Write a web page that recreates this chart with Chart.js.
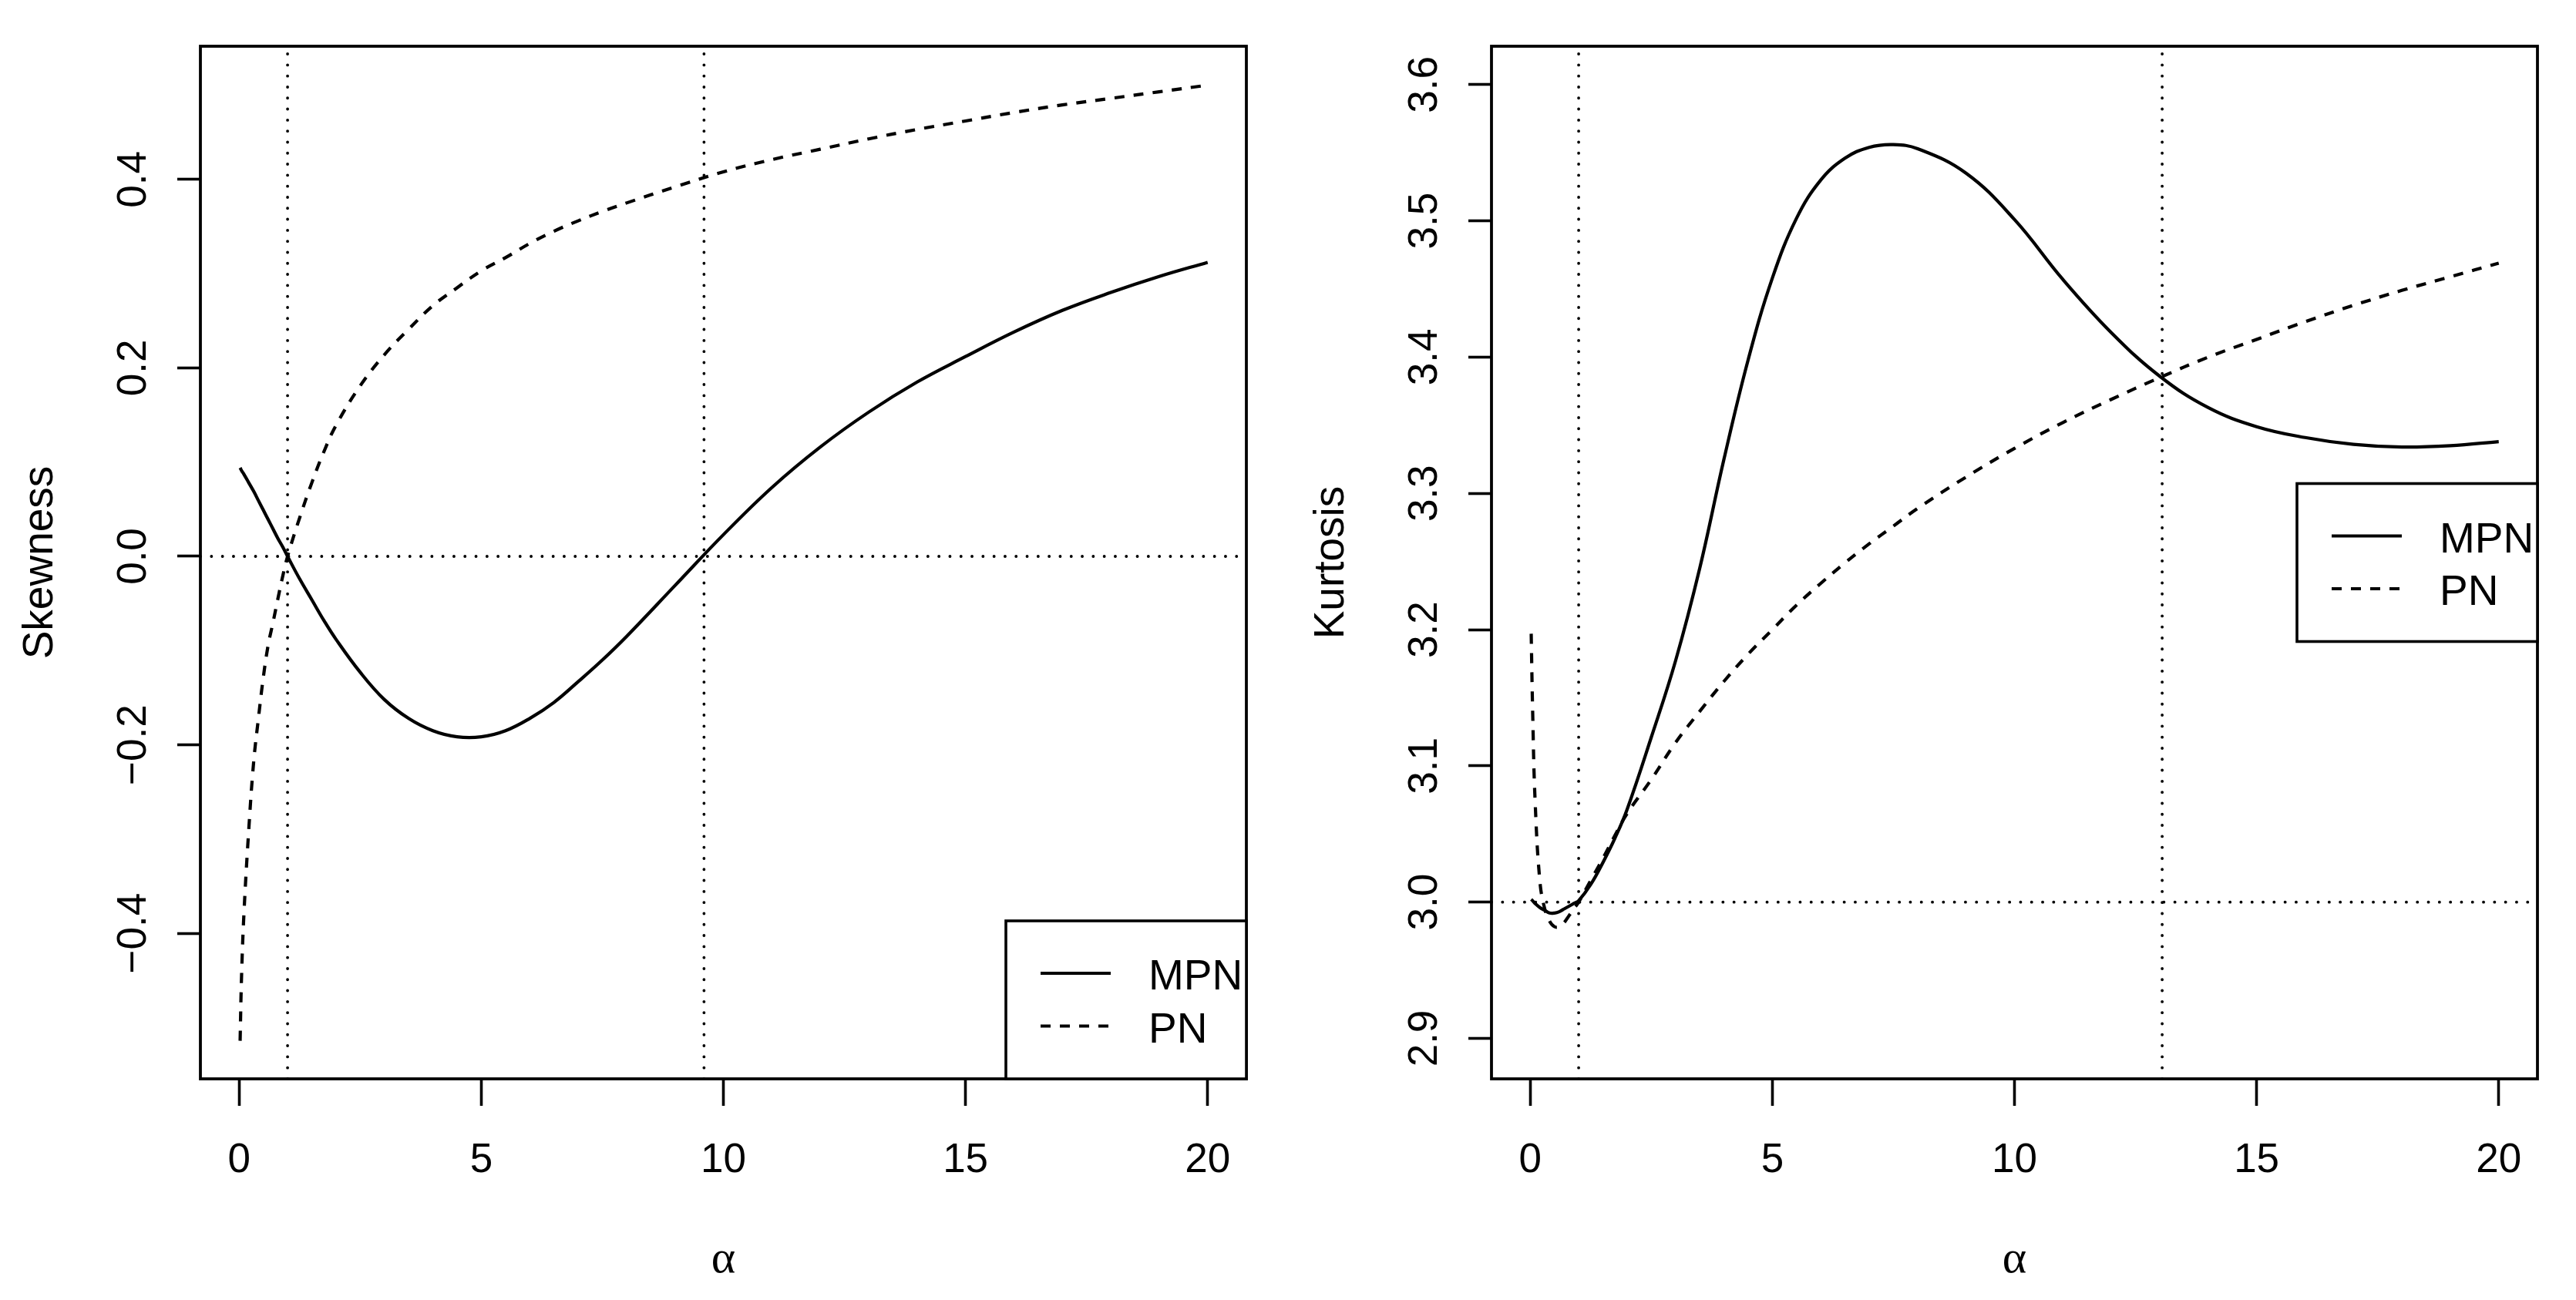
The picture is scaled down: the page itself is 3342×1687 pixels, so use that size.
<!DOCTYPE html>
<html>
<head>
<meta charset="utf-8">
<script src="https://cdn.jsdelivr.net/npm/chart.js@4.4.0/dist/chart.umd.min.js"></script>
<style>
    html, body { margin: 0; padding: 0; background: #fff; }
    #wrap { position: relative; width: 3342px; height: 1687px; overflow: hidden; background: #fff; }
    canvas { position: absolute; top: 0; }
    #skew-chart { left: 0; }
    #kurt-chart { left: 1675px; }
</style>
</head>
<body>
<div id="wrap">
    <canvas id="skew-chart" width="1667" height="1687"></canvas>
    <canvas id="kurt-chart" width="1667" height="1687"></canvas>
</div>
<script>
// Values
const alpha = [0.02, 0.05, 0.1, 0.2, 0.3, 0.4, 0.5, 0.6, 0.7, 0.8, 0.9, 1, 1.25, 1.5, 1.75, 2,
    2.5, 3, 3.5, 4, 4.5, 5, 5.5, 6, 6.5, 7, 7.5, 8, 9, 10, 11, 12, 13, 14, 15, 16, 17, 18, 19, 20];

const skewMPN = [0.094, 0.091, 0.087, 0.078, 0.069, 0.059, 0.049, 0.039, 0.029, 0.019, 0.010, 0.000,
    -0.024, -0.046, -0.068, -0.088, -0.123, -0.152, -0.172, -0.185, -0.1915, -0.1915, -0.185, -0.172,
    -0.155, -0.133, -0.110, -0.085, -0.031, 0.023, 0.073, 0.116, 0.153, 0.185, 0.212, 0.238, 0.261,
    0.280, 0.297, 0.312];

const skewPN = [-0.514, -0.445, -0.378, -0.289, -0.218, -0.171, -0.128, -0.094, -0.070, -0.045, -0.021,
    0.000, 0.041, 0.078, 0.111, 0.139, 0.181, 0.214, 0.241, 0.266, 0.285, 0.303, 0.317, 0.332, 0.345,
    0.356, 0.366, 0.375, 0.392, 0.408, 0.421, 0.432, 0.443, 0.453, 0.462, 0.471, 0.479, 0.486, 0.493, 0.500];

const kurtMPN = [3.002, 3.001, 2.999, 2.996, 2.994, 2.992, 2.992, 2.993, 2.995, 2.997, 2.999, 3.001,
    3.013, 3.029, 3.047, 3.068, 3.121, 3.177, 3.245, 3.325, 3.398, 3.458, 3.502, 3.530, 3.546, 3.554,
    3.556, 3.553, 3.535, 3.501, 3.457, 3.418, 3.386, 3.363, 3.349, 3.341, 3.336, 3.334, 3.335, 3.338];

const kurtPN = [3.197, 3.140, 3.075, 3.015, 2.995, 2.986, 2.982, 2.982, 2.985, 2.990, 2.995, 3.000,
    3.016, 3.032, 3.049, 3.065, 3.090, 3.117, 3.140, 3.162, 3.182, 3.200, 3.218, 3.234, 3.249, 3.263,
    3.276, 3.289, 3.312, 3.333, 3.352, 3.369, 3.385, 3.400, 3.413, 3.426, 3.438, 3.449, 3.459, 3.469];

const seriesLabels = ['MPN', 'PN'];
const alphaTicks = [0, 5, 10, 15, 20];
const skewTicks = [-0.4, -0.2, 0.0, 0.2, 0.4];
const kurtTicks = [2.9, 3.0, 3.1, 3.2, 3.3, 3.4, 3.5, 3.6];
const skewVLines = [1, 9.6];
const skewHLines = [0];
const kurtVLines = [1, 13.05];
const kurtHLines = [3];

// Axis limits (R style 4% padding)
const X_MIN = -0.8, X_MAX = 20.8;
const SKEW_MIN = -0.5544, SKEW_MAX = 0.5413;
const KURT_MIN = 2.8703, KURT_MAX = 3.6282;

const SANS = '"Liberation Sans", Arial, Helvetica, sans-serif';
const SERIF = '"Liberation Serif", "Times New Roman", serif';
const LINE_W = 4.2;
const DASH = [13, 12];
const DOTS = [0.1, 14.2];

function fmtTick(v) {
    const s = Math.abs(v).toFixed(1);
    return v < -1e-9 ? '\u2212' + s : s;
}

// box round the plot region, rotated y labels and the legend, R style
const rFramePlugin = {
    id: 'rFrame',
    afterDraw(chart, args, opts) {
        const ctx = chart.ctx;
        const area = chart.chartArea;
        const yScale = chart.scales.y;

        ctx.save();
        ctx.strokeStyle = '#000';
        ctx.lineWidth = 3.8;
        ctx.setLineDash([]);
        ctx.strokeRect(area.left, area.top, area.right - area.left, area.bottom - area.top);

        // y tick labels, parallel to the axis
        ctx.fillStyle = '#000';
        ctx.font = '53px ' + SANS;
        ctx.textAlign = 'center';
        ctx.textBaseline = 'alphabetic';
        yScale.ticks.forEach(t => {
            const py = yScale.getPixelForValue(t.value);
            ctx.save();
            ctx.translate(area.left - 71, py);
            ctx.rotate(-Math.PI / 2);
            ctx.fillText(fmtTick(t.value), 0, 0);
            ctx.restore();
        });

        // legend
        const w = 312, h = 205;
        const lx = area.right - w;
        const ly = opts.legendAt === 'bottomright' ? area.bottom - h : (area.top + area.bottom) / 2 - h / 2;
        ctx.fillStyle = '#fff';
        ctx.fillRect(lx, ly, w, h);
        ctx.lineWidth = 3.6;
        ctx.strokeRect(lx, ly, w, h);

        ctx.font = '55px ' + SANS;
        ctx.textAlign = 'left';
        seriesLabels.forEach((label, i) => {
            const ds = chart.data.datasets[i];
            const rowY = ly + 68 + i * 68.5;
            ctx.beginPath();
            ctx.setLineDash(ds.borderDash || []);
            ctx.lineWidth = ds.borderWidth;
            ctx.moveTo(lx + 45, rowY);
            ctx.lineTo(lx + 136, rowY);
            ctx.stroke();
            ctx.setLineDash([]);
            ctx.fillStyle = '#000';
            ctx.fillText(label, lx + 185, rowY + 21);
        });
        ctx.restore();
    }
};

function refLines(vLines, hLines, yMin, yMax) {
    const sets = [];
    vLines.forEach(v => sets.push({ data: [{ x: v, y: yMin }, { x: v, y: yMax }] }));
    hLines.forEach(v => sets.push({ data: [{ x: X_MIN, y: v }, { x: X_MAX, y: v }] }));
    return sets.map(s => Object.assign(s, {
        borderColor: '#000',
        borderWidth: 3.8,
        borderDash: DOTS,
        borderCapStyle: 'round',
        pointRadius: 0,
        fill: false
    }));
}

function makePanel(canvasId, mpn, pn, yTitle, yMin, yMax, yTicks, vLines, hLines, legendAt) {
    const toPoints = arr => arr.map((v, i) => ({ x: alpha[i], y: v }));

    return new Chart(document.getElementById(canvasId), {
        type: 'line',
        data: {
            datasets: [
                {
                    label: seriesLabels[0],
                    data: toPoints(mpn),
                    borderColor: '#000',
                    borderWidth: LINE_W,
                    pointRadius: 0,
                    tension: 0.4,
                    fill: false
                },
                {
                    label: seriesLabels[1],
                    data: toPoints(pn),
                    borderColor: '#000',
                    borderWidth: LINE_W,
                    borderDash: DASH,
                    pointRadius: 0,
                    tension: 0.4,
                    fill: false
                },
                ...refLines(vLines, hLines, yMin, yMax)
            ]
        },
        options: {
            responsive: false,
            animation: false,
            devicePixelRatio: 1,
            layout: { padding: { left: 0, top: 60, right: 50, bottom: 0 } },
            plugins: {
                legend: { display: false },
                tooltip: { enabled: false },
                rFrame: { legendAt: legendAt }
            },
            scales: {
                x: {
                    type: 'linear',
                    min: X_MIN,
                    max: X_MAX,
                    afterBuildTicks: s => { s.ticks = alphaTicks.map(v => ({ value: v })); },
                    afterFit: s => { s.height = 287; },
                    border: { display: false },
                    grid: {
                        drawOnChartArea: false,
                        drawTicks: true,
                        tickLength: 35,
                        tickWidth: 3.6,
                        tickColor: '#000'
                    },
                    ticks: {
                        color: '#000',
                        padding: 40,
                        maxRotation: 0,
                        autoSkip: false,
                        font: { family: SANS, size: 53 },
                        callback: v => String(v)
                    },
                    title: {
                        display: true,
                        text: '\u03b1',
                        color: '#000',
                        font: { family: SERIF, size: 60, lineHeight: 1 },
                        padding: { top: 0, bottom: 22 }
                    }
                },
                y: {
                    type: 'linear',
                    min: yMin,
                    max: yMax,
                    afterBuildTicks: s => { s.ticks = yTicks.map(v => ({ value: v })); },
                    afterFit: s => { s.width = 260; },
                    border: { display: false },
                    grid: {
                        drawOnChartArea: false,
                        drawTicks: true,
                        tickLength: 30,
                        tickWidth: 3.6,
                        tickColor: '#000'
                    },
                    ticks: { display: false },
                    title: {
                        display: true,
                        text: yTitle,
                        color: '#000',
                        font: { family: SANS, size: 55, lineHeight: 1 },
                        padding: { top: 25, bottom: 0 }
                    }
                }
            }
        },
        plugins: [rFramePlugin]
    });
}

document.addEventListener('DOMContentLoaded', function () {
    makePanel('skew-chart', skewMPN, skewPN, 'Skewness', SKEW_MIN, SKEW_MAX, skewTicks,
        skewVLines, skewHLines, 'bottomright');
    makePanel('kurt-chart', kurtMPN, kurtPN, 'Kurtosis', KURT_MIN, KURT_MAX, kurtTicks,
        kurtVLines, kurtHLines, 'right');
});
</script>
</body>
</html>
